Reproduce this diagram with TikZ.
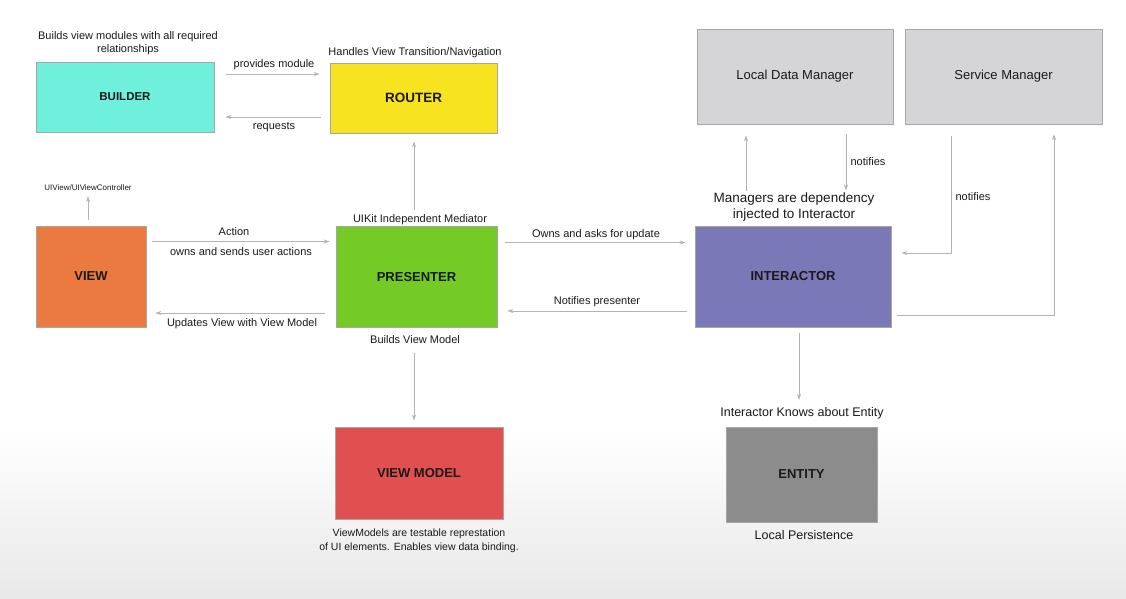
\documentclass[tikz,border=0pt]{standalone}
\usepackage{fontspec}
\setmainfont{Liberation Sans}
\usepackage{tikz}
\usetikzlibrary{arrows.meta}
\usetikzlibrary{positioning}

\definecolor{buildercol}{HTML}{6EF0DC}
\definecolor{routercol}{HTML}{F7E31F}
\definecolor{viewcol}{HTML}{EA7A3F}
\definecolor{presentercol}{HTML}{74CB25}
\definecolor{interactorcol}{HTML}{7B78B8}
\definecolor{managercol}{HTML}{D5D4D6}
\definecolor{vmcol}{HTML}{E05050}
\definecolor{entitycol}{HTML}{8C8C8C}
\definecolor{linecol}{HTML}{B4B4B4}
\definecolor{txtcol}{HTML}{1A1A1A}

\tikzset{
  box/.style={draw=gray!70, line width=0.6pt, inner sep=0pt, text=txtcol,
    font=\fontsize{13}{15}\selectfont\bfseries},
  mgr/.style={box, fill=managercol, minimum width=196pt, minimum height=95pt,
    font=\fontsize{13}{15}\selectfont},
  lbl/.style={inner sep=0pt, text=txtcol, font=\fontsize{11}{13}\selectfont, align=center},
  biglbl/.style={lbl, font=\fontsize{13}{16}\selectfont},
  conn/.style={draw=linecol, line width=0.8pt, -{Stealth[length=6pt,width=4pt]}}
}

\begin{document}
\begin{tikzpicture}[x=1pt, y=-1pt]
\useasboundingbox (0,0) rectangle (1126,598);
\fill[white] (0,0) rectangle (1126,598);
\shade[top color=white, bottom color=gray!18] (0,430) rectangle (1126,598);

%
\node (builder) [box, fill=buildercol, minimum width=178pt, minimum height=70pt,
  font=\fontsize{11.5}{13}\selectfont\bfseries] at (125,97) {BUILDER};
\node (router) [box, fill=routercol, minimum width=167pt, minimum height=70pt,
  font=\fontsize{13.5}{15}\selectfont\bfseries] at (413.5,98) {ROUTER};
\node (view) [box, fill=viewcol, minimum width=110pt, minimum height=101pt] at (91,276.5) {VIEW};
\node (presenter) [box, fill=presentercol, minimum width=161pt, minimum height=101pt] at (416.5,277) {PRESENTER};
\node (interactor) [box, fill=interactorcol, minimum width=196pt, minimum height=101pt] at (793,276.5) {INTERACTOR};
\node (ldm) [mgr] at (795,76.5) {Local Data Manager};
\node (sm) [mgr, minimum width=197pt] at (1003.5,76.5) {Service Manager};
\node (viewmodel) [box, fill=vmcol, minimum width=168pt, minimum height=92pt] at (419,473) {VIEW MODEL};
\node (entity) [box, fill=entitycol, minimum width=151pt, minimum height=95pt] at (801.5,474.5) {ENTITY};

%
\node (buildtxt) [lbl] at (128,43.5) {Builds view modules with all required\\relationships};
\node (handles) [lbl] at (415,53) {Handles View Transition/Navigation};
\node (provides) [lbl] at (274,65) {provides module};
\node (requests) [lbl] at (274,127) {requests};
\node (uiview) [lbl, font=\fontsize{8}{10}\selectfont] at (88,188) {UIView/UIViewController};
\node (action) [lbl] at (234,232) {Action};
\node (ownsact) [lbl] at (241,252) {owns and sends user actions};
\node (updates) [lbl] at (242,324) {Updates View with View Model};
\node (mediator) [lbl] at (420,220) {UIKit Independent Mediator};
\node (builds) [lbl] at (415,340) {Builds View Model};
\node (ownsask) [lbl] at (596,235) {Owns and asks for update};
\node (notifpres) [lbl] at (597,302) {Notifies presenter};
\node (inject) [biglbl, font=\fontsize{13.5}{16}\selectfont] at (794,207) {Managers are dependency\\injected to Interactor};
\node (notifldm) [lbl] at (868,162) {notifies};
\node (notifsm) [lbl] at (973,197) {notifies};
\node (knows) [biglbl, font=\fontsize{12.5}{15}\selectfont] at (802,413) {Interactor Knows about Entity};
\node (persist) [biglbl, font=\fontsize{12.5}{15}\selectfont] at (804,535) {Local Persistence};
\node (vmnote) [lbl, font=\fontsize{10.5}{14}\selectfont] at (419,541) {ViewModels are testable represtation\\of UI elements. Enables view data binding.};

%
\draw [conn, shorten <=12pt, shorten >=10pt] ([yshift=23pt]builder.east) -- ([yshift=23pt]builder.east -| router.west);
\draw [conn, shorten <=9pt, shorten >=11pt] ([yshift=-19pt]router.west) -- ([yshift=-19pt]router.west -| builder.east);
\draw [conn, shorten <=16pt, shorten >=8pt] ([xshift=-2.5pt]presenter.north) -- ([xshift=-2.5pt]presenter.north |- router.south);
\draw [conn, shorten <=6pt, shorten >=5pt] (view.north -| uiview.south) -- (uiview.south);
\draw [conn, shorten <=6pt, shorten >=6pt] ([yshift=35pt]view.east) -- ([yshift=35pt]view.east -| presenter.west);
\draw [conn, shorten <=11pt, shorten >=9pt] ([yshift=-36pt]presenter.west) -- ([yshift=-36pt]presenter.west -| view.east);
\draw [conn, shorten <=25pt, shorten >=6pt] ([xshift=-2.5pt]presenter.south) -- ([xshift=-2.5pt]presenter.south |- viewmodel.north);
\draw [conn, shorten <=8pt, shorten >=9pt] ([yshift=34.5pt]presenter.east) -- ([yshift=34.5pt]presenter.east -| interactor.west);
\draw [conn, shorten <=8pt, shorten >=10pt] ([yshift=-34.5pt]interactor.west) -- ([yshift=-34.5pt]interactor.west -| presenter.east);
\draw [conn, shorten <=2pt, shorten >=11pt] ([xshift=-49pt]ldm.south |- inject.north) -- ([xshift=-49pt]ldm.south);
\draw [conn, shorten <=10pt, shorten >=2pt] ([xshift=51pt]ldm.south) -- ([xshift=51pt]ldm.south |- inject.north);
\draw [conn, shorten <=12pt, shorten >=10pt] ([xshift=-52.5pt]sm.south) |- ([yshift=23.5pt]interactor.east);
\draw [conn, shorten <=6pt, shorten >=10pt] ([yshift=-38.5pt]interactor.east) -| ([xshift=50.5pt]sm.south);
\draw [conn, shorten <=6pt, shorten >=7pt] ([xshift=6pt]interactor.south) -- ([xshift=6pt]interactor.south |- knows.north);
\end{tikzpicture}
\end{document}
